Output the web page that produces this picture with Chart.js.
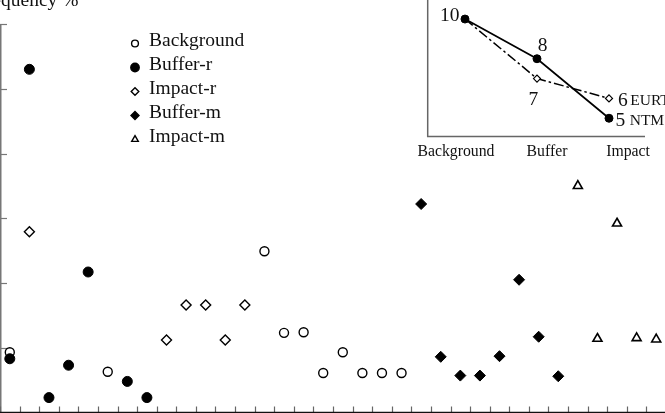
<!DOCTYPE html>
<html>
<head>
<meta charset="utf-8">
<script src="https://cdn.jsdelivr.net/npm/chart.js@4.4.0/dist/chart.umd.min.js"></script>
<style>
  html, body { margin: 0; padding: 0; background: #fff; overflow: hidden; }
  #wrap { position: relative; width: 665px; height: 413px; overflow: hidden; }
  #main { position: absolute; left: 0; top: 0; }
  #inset { position: absolute; left: 400px; top: 0; }
</style>
</head>
<body>
<div id="wrap">
  <canvas id="main" width="667" height="413"></canvas>
  <canvas id="inset" width="265" height="170"></canvas>
</div>
<script>
// sampling sites along the x axis
const sites = ['1','2','3','4','5','6','7','8','9','10','11','12','13','14','15','16','17',
  '18','19','20','21','22','23','24','25','26','27','28','29','30','31','32','33','34'];
const yTicks = [0, 1, 2, 3, 4, 5, 6];

// frequency values per group (site number, value)
const backgroundSites  = [1, 6, 14, 15, 16, 17, 18, 19, 20, 21];
const backgroundValues = [0.93, 0.63, 2.49, 1.23, 1.24, 0.61, 0.93, 0.61, 0.61, 0.61];
const bufferRSites  = [1, 2, 3, 4, 5, 7, 8];
const bufferRValues = [0.83, 5.30, 0.23, 0.73, 2.17, 0.48, 0.23];
const impactRSites  = [2, 9, 10, 11, 12, 13];
const impactRValues = [2.79, 1.12, 1.66, 1.66, 1.12, 1.66];
const bufferMSites  = [22, 23, 24, 25, 26, 27, 28, 29];
const bufferMValues = [3.22, 0.86, 0.57, 0.57, 0.87, 2.05, 1.17, 0.56];
const impactMSites  = [30, 31, 32, 33, 34];
const impactMValues = [3.50, 1.14, 2.92, 1.15, 1.13];

// inset
const insetCategories = ['Background', 'Buffer', 'Impact'];
const ntmValues  = [10, 8, 5];
const eurtValues = [10, 7, 6];

const SERIF = '"Liberation Serif", "DejaVu Serif", serif';

function pts(s, v) {
  return s.map((site, i) => ({ x: String(site), y: v[i] }));
}

const axesPlugin = {
  id: 'axes',
  beforeDatasetsDraw(chart) {
    const { ctx, chartArea, scales: { x, y } } = chart;
    ctx.save();
    // y axis
    ctx.strokeStyle = '#777';
    ctx.lineWidth = 1.5;
    ctx.beginPath();
    ctx.moveTo(0.75, y.getPixelForValue(6));
    ctx.lineTo(0.75, chartArea.bottom);
    ctx.stroke();
    ctx.lineWidth = 1.2;
    yTicks.forEach(t => {
      const py = Math.round(y.getPixelForValue(t)) + 0.5;
      ctx.beginPath();
      ctx.moveTo(0, py);
      ctx.lineTo(7, py);
      ctx.stroke();
    });
    // x ticks at category boundaries
    const half = (x.getPixelForValue(1) - x.getPixelForValue(0)) / 2;
    ctx.strokeStyle = '#666';
    ctx.lineWidth = 1.2;
    for (let i = 0; i <= sites.length; i++) {
      const px = Math.round(x.getPixelForValue(i) - half) + 0.5;
      ctx.beginPath();
      ctx.moveTo(px, chartArea.bottom);
      ctx.lineTo(px, chartArea.bottom - 6);
      ctx.stroke();
    }
    // x axis
    ctx.strokeStyle = '#111';
    ctx.lineWidth = 1.3;
    ctx.beginPath();
    ctx.moveTo(0, chartArea.bottom);
    ctx.lineTo(chart.width, chartArea.bottom);
    ctx.stroke();
    // axis title (cut at the left edge)
    ctx.fillStyle = '#111';
    ctx.font = '19.5px ' + SERIF;
    ctx.textBaseline = 'alphabetic';
    ctx.fillText('Frequency %', -25, 5.5);
    ctx.restore();
  },
  afterDraw(chart) {
    // legend
    const ctx = chart.ctx;
    ctx.save();
    const legendR = [3.4, 4.2, 3.8, 4, 3.8];
    chart.data.datasets.forEach((ds, i) => {
      const cy = 43.5 + i * 24;
      ctx.fillStyle = ds.backgroundColor;
      ctx.strokeStyle = ds.borderColor;
      ctx.lineWidth = 1.4;
      Chart.helpers.drawPoint(ctx, { pointStyle: ds.pointStyle, radius: legendR[i], rotation: 0, borderWidth: 1.4 }, 135, cy);
      ctx.fillStyle = '#111';
      ctx.font = '19.5px ' + SERIF;
      ctx.textBaseline = 'alphabetic';
      ctx.fillText(ds.label, 149, 45.7 + i * 24);
    });
    ctx.restore();
  }
};

new Chart(document.getElementById('main'), {
  type: 'line',
  data: {
    labels: sites,
    datasets: [
      { label: 'Background', data: pts(backgroundSites, backgroundValues), pointStyle: 'circle',
        pointRadius: 4.5, backgroundColor: '#fff', borderColor: '#000', pointBorderWidth: 1.4, order: 1 },
      { label: 'Buffer-r', data: pts(bufferRSites, bufferRValues), pointStyle: 'circle',
        pointRadius: 5, backgroundColor: '#000', borderColor: '#000', pointBorderWidth: 1, order: 0 },
      { label: 'Impact-r', data: pts(impactRSites, impactRValues), pointStyle: 'rectRot',
        pointRadius: 5, backgroundColor: '#fff', borderColor: '#000', pointBorderWidth: 1.4, order: 2 },
      { label: 'Buffer-m', data: pts(bufferMSites, bufferMValues), pointStyle: 'rectRot',
        pointRadius: 5.5, backgroundColor: '#000', borderColor: '#000', pointBorderWidth: 1, order: 3 },
      { label: 'Impact-m', data: pts(impactMSites, impactMValues), pointStyle: 'triangle',
        pointRadius: 5.2, backgroundColor: '#fff', borderColor: '#000', pointBorderWidth: 1.6, order: 4 }
    ].map(d => Object.assign({ showLine: false, clip: false, pointHoverRadius: d.pointRadius }, d))
  },
  options: {
    responsive: false,
    animation: false,
    layout: { autoPadding: false, padding: { left: 0, right: 1, top: 24, bottom: 0.5 } },
    plugins: { legend: { display: false }, tooltip: { enabled: false } },
    scales: {
      x: { type: 'category', offset: true, display: false },
      y: { min: 0, max: 6, display: false }
    }
  },
  plugins: [axesPlugin]
});

// inset chart
const insetPlugin = {
  id: 'insetDeco',
  beforeDatasetsDraw(chart) {
    const { ctx, chartArea: a, scales: { x } } = chart;
    ctx.save();
    ctx.strokeStyle = '#666';
    ctx.lineWidth = 1.5;
    ctx.beginPath();
    ctx.moveTo(a.left, 0);
    ctx.lineTo(a.left, a.bottom);
    ctx.lineTo(a.right, a.bottom);
    ctx.stroke();
    ctx.fillStyle = '#111';
    ctx.font = '15.75px ' + SERIF;
    ctx.textAlign = 'center';
    ctx.textBaseline = 'alphabetic';
    const shift = [-9, 10, 19];
    insetCategories.forEach((c, i) => {
      ctx.fillText(c, x.getPixelForValue(i) + shift[i], 156);
    });
    ctx.restore();
  },
  afterDraw(chart) {
    const ctx = chart.ctx;
    ctx.save();
    ctx.fillStyle = '#111';
    ctx.textBaseline = 'alphabetic';
    const big = '19.5px ' + SERIF, small = '15.5px ' + SERIF;
    const pt = (di, i) => chart.getDatasetMeta(di).data[i];
    // NTM
    let p = pt(0, 0);
    ctx.font = big; ctx.textAlign = 'right';
    ctx.fillText(String(ntmValues[0]), p.x - 5.5, p.y + 1.7);
    p = pt(0, 1);
    ctx.textAlign = 'center';
    ctx.fillText(String(ntmValues[1]), p.x + 5.6, p.y - 8);
    p = pt(0, 2);
    ctx.textAlign = 'left';
    ctx.fillText(String(ntmValues[2]), p.x + 6.4, p.y + 7.4);
    ctx.font = small;
    ctx.fillText('NTM', p.x + 20.7, p.y + 6.7);
    // EURT
    p = pt(1, 1);
    ctx.font = big; ctx.textAlign = 'center';
    ctx.fillText(String(eurtValues[1]), p.x - 3.7, p.y + 26.7);
    p = pt(1, 2);
    ctx.textAlign = 'left';
    ctx.fillText(String(eurtValues[2]), p.x + 9, p.y + 7.3);
    ctx.font = small;
    ctx.fillText('EURT', p.x + 21.3, p.y + 6.3);
    ctx.restore();
  }
};

new Chart(document.getElementById('inset'), {
  type: 'line',
  data: {
    datasets: [
      { label: 'NTM', data: ntmValues.map((v, i) => ({ x: i, y: v })),
        borderColor: '#000', borderWidth: 1.7, pointStyle: 'circle', pointRadius: 4,
        backgroundColor: '#000', pointBorderWidth: 1, order: 0, tension: 0 },
      { label: 'EURT', data: eurtValues.map((v, i) => ({ x: i, y: v })),
        borderColor: '#000', borderWidth: 1.5, borderDash: [10, 3, 2.5, 3], pointStyle: 'rectRot',
        pointRadius: [0, 3.5, 3.5], backgroundColor: '#fff', pointBorderWidth: 1.2, order: 1, tension: 0 }
    ]
  },
  options: {
    responsive: false,
    animation: false,
    layout: { autoPadding: false, padding: { left: 27.7, right: 20, top: 0, bottom: 33.5 } },
    plugins: { legend: { display: false }, tooltip: { enabled: false } },
    scales: {
      x: { type: 'linear', min: -0.518, max: 2.5, display: false },
      y: { type: 'linear', min: 4.08, max: 10.96, display: false }
    }
  },
  plugins: [insetPlugin]
});
</script>
</body>
</html>
